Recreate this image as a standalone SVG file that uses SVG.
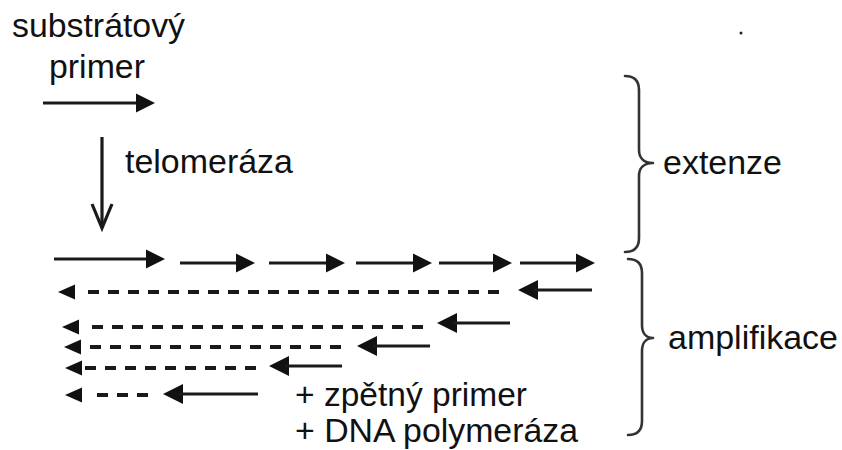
<svg xmlns="http://www.w3.org/2000/svg" xmlns:xlink="http://www.w3.org/1999/xlink" width="842" height="450" viewBox="0 0 842 450">
<style>
.t{font-family:"Liberation Sans",Arial,sans-serif;font-size:32.5px;fill:#111}
.s{stroke:#1a1a1a;stroke-width:3.2;fill:none}
.d{stroke:#1a1a1a;stroke-width:4.2;fill:none;stroke-dasharray:11 9}
.h{fill:#111}
.b{stroke:#333;stroke-width:2.6;fill:none;stroke-linecap:round;stroke-linejoin:round}
</style>
<defs>
<path id="hr" d="M0,0 L-19,-9.5 L-19,9.5 Z"/>
<path id="hl" d="M0,0 L20,-10 L20,10 Z"/>
<path id="hs" d="M0,0 L17,-7.5 L17,7.5 Z"/>
</defs>
<rect width="842" height="450" fill="#fff"/>
<g id="labels">
<text class="t" x="12" y="37" textLength="173" lengthAdjust="spacingAndGlyphs">substrátový</text>
<text class="t" x="49" y="78" textLength="96" lengthAdjust="spacingAndGlyphs">primer</text>
<text class="t" x="125" y="173" textLength="168" lengthAdjust="spacingAndGlyphs">telomeráza</text>
<text class="t" x="295" y="406" textLength="232" lengthAdjust="spacingAndGlyphs">+ zpětný primer</text>
<text class="t" x="295" y="442" textLength="283" lengthAdjust="spacingAndGlyphs">+ DNA polymeráza</text>
</g>
<g id="extenze">
<path class="b" d="M625,76 C634,76 639,80 639,90 L639,150 C639,158 644,163 653,163 C644,163 639,168 639,176 L639,238 C639,248 634,252 625,252"/>
<text class="t" x="663" y="174" textLength="119" lengthAdjust="spacingAndGlyphs">extenze</text>
</g>
<g id="amplifikace">
<path class="b" d="M628,259 C637,259 642,263 642,273 L642,325 C642,333 646,338 653,338 C646,338 642,343 642,351 L642,421 C642,431 637,435 628,435"/>
<text class="t" x="668" y="349" textLength="170" lengthAdjust="spacingAndGlyphs">amplifikace</text>
</g>
<circle cx="741" cy="33" r="1.5" fill="#222"/>
<g id="connectors">
<line class="s" x1="43" y1="103" x2="140" y2="103"/><use href="#hr" class="h" x="155" y="103"/>
<line class="s" x1="102" y1="137" x2="102" y2="226" stroke-width="2.5"/>
<polyline class="s" stroke-width="2.5" points="92,204 102,228 112,204"/>
<line class="s" x1="54" y1="259" x2="150" y2="259"/><use href="#hr" class="h" x="165" y="259"/>
<line class="s" x1="180" y1="263" x2="240" y2="263"/><use href="#hr" class="h" x="255" y="263"/>
<line class="s" x1="269" y1="263" x2="330" y2="263"/><use href="#hr" class="h" x="345" y="263"/>
<line class="s" x1="356" y1="263" x2="417" y2="263"/><use href="#hr" class="h" x="432" y="263"/>
<line class="s" x1="439" y1="263" x2="497" y2="263"/><use href="#hr" class="h" x="512" y="263"/>
<line class="s" x1="520" y1="263" x2="580" y2="263"/><use href="#hr" class="h" x="595" y="263"/>
<use href="#hs" class="h" x="58" y="292"/><line class="d" x1="88" y1="292" x2="507" y2="292"/>
<use href="#hl" class="h" x="518" y="290"/><line class="s" x1="534" y1="290" x2="592" y2="290"/>
<use href="#hs" class="h" x="62" y="327"/><line class="d" x1="92" y1="327" x2="427" y2="327"/>
<use href="#hl" class="h" x="437" y="323"/><line class="s" x1="453" y1="323" x2="510" y2="323"/>
<use href="#hs" class="h" x="64" y="347"/><line class="d" x1="90" y1="347" x2="343" y2="347"/>
<use href="#hl" class="h" x="357" y="346"/><line class="s" x1="373" y1="346" x2="430" y2="346"/>
<use href="#hs" class="h" x="65" y="368"/><line class="d" x1="85" y1="368" x2="260" y2="368"/>
<use href="#hl" class="h" x="269" y="366"/><line class="s" x1="285" y1="366" x2="342" y2="366"/>
<use href="#hs" class="h" x="65" y="395"/><line class="d" x1="97" y1="395" x2="150" y2="395"/>
<use href="#hl" class="h" x="163" y="394"/><line class="s" x1="179" y1="394" x2="258" y2="394"/>
</g>
</svg>
